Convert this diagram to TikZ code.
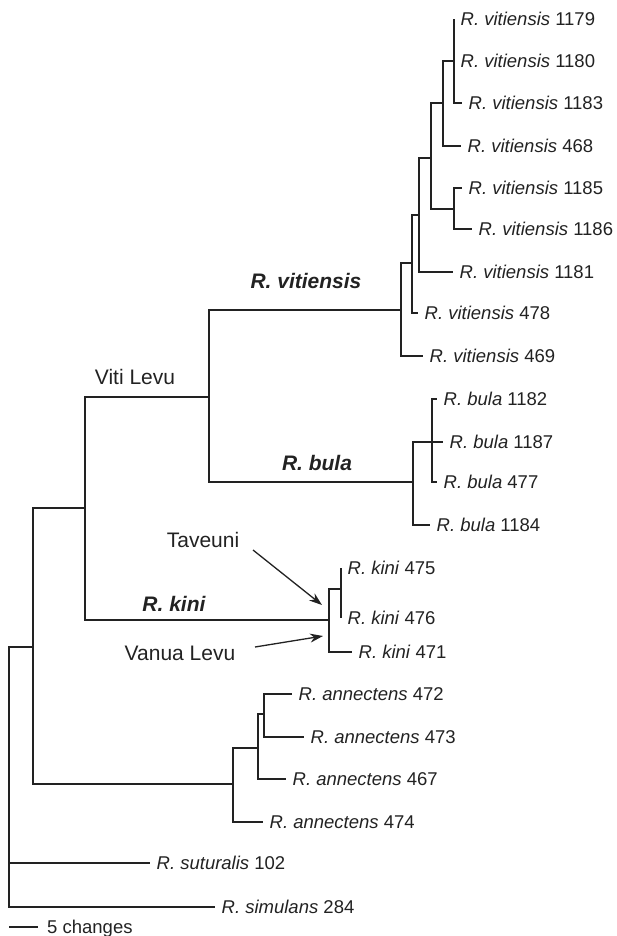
\documentclass[tikz,border=0pt]{standalone}
\usepackage{fontspec}
\setmainfont{Liberation Sans}
\usetikzlibrary{arrows.meta}
\definecolor{ink}{HTML}{222222}
\begin{document}
\begin{tikzpicture}[x=1pt,y=-1pt,
  br/.style={draw=ink,line width=1.3pt},
  leaf/.style={anchor=west,inner xsep=6.5pt,inner ysep=0pt,text=ink,font=\fontsize{18.5}{20}\selectfont},
  clade/.style={inner sep=0pt,text=ink,font=\fontsize{21}{23}\selectfont\bfseries\itshape},
  place/.style={inner sep=0pt,text=ink,font=\fontsize{21}{23}\selectfont},
  arr/.style={draw=ink,line width=1.3pt,-{Stealth[length=13pt,width=9pt]}}]
\useasboundingbox (0,0) rectangle (617,936);
% internal nodes
\coordinate (n454a) at (454,61);
\coordinate (n443) at (443,103);
\coordinate (n454b) at (454,209);
\coordinate (n431) at (431,158);
\coordinate (n419) at (419,215);
\coordinate (n412) at (412,263);
\coordinate (n401) at (401,310);
\coordinate (n432) at (432,442);
\coordinate (n413) at (413,482);
\coordinate (n209) at (209,397);
\coordinate (n341) at (341,589);
\coordinate (n329) at (329,620);
\coordinate (n85) at (85,508);
\coordinate (n264) at (264,714);
\coordinate (n258) at (258,748);
\coordinate (n233) at (233,784);
\coordinate (n33) at (33,647);
\coordinate (n9) at (9,863);
% leaves
\node[leaf] (v1179) at (454,19) {\textit{R. vitiensis} 1179};
\node[leaf] (v1180) at (454,61) {\textit{R. vitiensis} 1180};
\node[leaf] (v1183) at (462,103) {\textit{R. vitiensis} 1183};
\node[leaf] (v468) at (461,146) {\textit{R. vitiensis} 468};
\node[leaf] (v1185) at (462,188) {\textit{R. vitiensis} 1185};
\node[leaf] (v1186) at (472,229) {\textit{R. vitiensis} 1186};
\node[leaf] (v1181) at (453,272) {\textit{R. vitiensis} 1181};
\node[leaf] (v478) at (418,313) {\textit{R. vitiensis} 478};
\node[leaf] (v469) at (423,356) {\textit{R. vitiensis} 469};
\node[leaf] (b1182) at (437,399) {\textit{R. bula} 1182};
\node[leaf] (b1187) at (443,442) {\textit{R. bula} 1187};
\node[leaf] (b477) at (437,482) {\textit{R. bula} 477};
\node[leaf] (b1184) at (430,525) {\textit{R. bula} 1184};
\node[leaf] (k475) at (341,568) {\textit{R. kini} 475};
\node[leaf] (k476) at (341,618) {\textit{R. kini} 476};
\node[leaf] (k471) at (352,652) {\textit{R. kini} 471};
\node[leaf] (a472) at (292,694) {\textit{R. annectens} 472};
\node[leaf] (a473) at (304,737) {\textit{R. annectens} 473};
\node[leaf] (a467) at (286,779) {\textit{R. annectens} 467};
\node[leaf] (a474) at (263,822) {\textit{R. annectens} 474};
\node[leaf] (sut) at (150,863) {\textit{R. suturalis} 102};
\node[leaf] (sim) at (215,907) {\textit{R. simulans} 284};
% branches
\draw[br] (n454a) |- (v1179.west);
\draw[br] (n454a) |- (v1183.west);
\draw[br] (n443) |- (n454a);
\draw[br] (n443) |- (v468.west);
\draw[br] (n454b) |- (v1185.west);
\draw[br] (n454b) |- (v1186.west);
\draw[br] (n431) |- (n443);
\draw[br] (n431) |- (n454b);
\draw[br] (n419) |- (n431);
\draw[br] (n419) |- (v1181.west);
\draw[br] (n412) |- (n419);
\draw[br] (n412) |- (v478.west);
\draw[br] (n401) |- (n412);
\draw[br] (n401) |- (v469.west);
\draw[br] (n432) |- (b1182.west);
\draw[br] (n432) |- (b1187.west);
\draw[br] (n432) |- (b477.west);
\draw[br] (n413) |- (n432);
\draw[br] (n413) |- (b1184.west);
\draw[br] (n209) |- (n401);
\draw[br] (n209) |- (n413);
\draw[br] (n341) |- (k475.west);
\draw[br] (n341) |- (k476.west);
\draw[br] (n329) |- (n341);
\draw[br] (n329) |- (k471.west);
\draw[br] (n85) |- (n209);
\draw[br] (n85) |- (n329);
\draw[br] (n264) |- (a472.west);
\draw[br] (n264) |- (a473.west);
\draw[br] (n258) |- (n264);
\draw[br] (n258) |- (a467.west);
\draw[br] (n233) |- (n258);
\draw[br] (n233) |- (a474.west);
\draw[br] (n33) |- (n85);
\draw[br] (n33) |- (n233);
\draw[br] (n9) |- (n33);
\draw[br] (n9) |- (sut.west);
\draw[br] (n9) |- (sim.west);
% clade and place labels
\node[clade] (lvit) at (306,281) {R. vitiensis};
\node[clade] (lbula) at (317,463) {R. bula};
\node[clade] (lkini) at (174,604) {R. kini};
\node[place] (viti) at (135,377) {Viti Levu};
\node[place] (tav) at (203,540) {Taveuni};
\node[place] (van) at (180,653) {Vanua Levu};
\coordinate (tavs) at (253,550);
\coordinate (tave) at (322,605);
\coordinate (vans) at (255,647);
\coordinate (vane) at (323,636);
\draw[arr] (tavs) -- (tave);
\draw[arr] (vans) -- (vane);
% scale bar
\coordinate (sb1) at (9,927);
\coordinate (sb2) at (38,927);
\draw[br] (sb1) -- (sb2);
\node[anchor=base west,inner sep=0pt,text=ink,font=\fontsize{18.5}{20}\selectfont] (sbl) at (47,933) {5 changes};
\end{tikzpicture}
\end{document}
